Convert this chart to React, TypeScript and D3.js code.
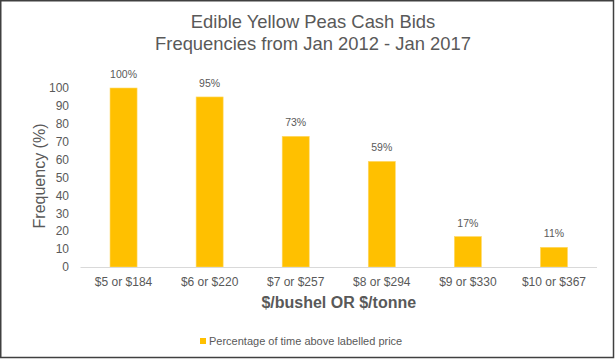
import React, { useEffect, useRef } from "react";
import * as d3 from "d3";

const categories = ["$5 or $184", "$6 or $220", "$7 or $257", "$8 or $294", "$9 or $330", "$10 or $367"];
const frequencies = [100, 95, 73, 59, 17, 11];
const yTicks = [0, 10, 20, 30, 40, 50, 60, 70, 80, 90, 100];
const titleLines = ["Edible Yellow Peas Cash Bids", "Frequencies from Jan 2012 - Jan 2017"];
const seriesName = "Percentage of time above labelled price";

const App = () => {
    const ref = useRef<SVGGElement>(null);
    const width = 615;
    const height = 360;
    const left = 80.5;
    const right = 597;
    const top = 88;
    const bottom = 267;
    const textColor = "#595959";
    const barColor = "#FFC000";
    const font = "'Liberation Sans', Arial, sans-serif";

    useEffect(() => {
        const g = d3.select(ref.current);
        g.selectAll("*").remove();

        const x = d3.scaleBand().domain(categories).range([left, right]).paddingInner(0.686).paddingOuter(0.343);
        const y = d3.scaleLinear().domain([0, 100]).range([bottom, top]);

        // outer frame
        g.append("rect")
            .attr("x", 0.75)
            .attr("y", 0.75)
            .attr("width", 612.75)
            .attr("height", 356.75)
            .attr("fill", "white")
            .attr("stroke", "#404040")
            .attr("stroke-width", 1.5);

        // title
        g.append("text")
            .attr("text-anchor", "middle")
            .attr("font-family", font)
            .attr("font-size", "18.4px")
            .attr("fill", textColor)
            .selectAll("tspan")
            .data(titleLines)
            .enter()
            .append("tspan")
            .attr("x", 313)
            .attr("y", (d, i) => 28 + i * 22)
            .text(d => d);

        // y axis labels
        g.append("g")
            .selectAll("text")
            .data(yTicks)
            .enter()
            .append("text")
            .attr("x", 69)
            .attr("y", d => y(d))
            .attr("dy", "0.35em")
            .attr("text-anchor", "end")
            .attr("font-family", font)
            .attr("font-size", "12px")
            .attr("fill", textColor)
            .text(d => d);

        // bars
        g.append("g")
            .selectAll("rect")
            .data(frequencies)
            .enter()
            .append("rect")
            .attr("x", (d, i) => x(categories[i])!)
            .attr("y", d => y(d))
            .attr("width", x.bandwidth())
            .attr("height", d => y(0) - y(d))
            .attr("fill", barColor)
            .attr("stroke", "#FFD966")
            .attr("stroke-width", 0.6);

        // value labels
        g.append("g")
            .selectAll("text")
            .data(frequencies)
            .enter()
            .append("text")
            .attr("x", (d, i) => x(categories[i])! + x.bandwidth() / 2)
            .attr("y", d => y(d) - 10)
            .attr("text-anchor", "middle")
            .attr("font-family", font)
            .attr("font-size", "10.5px")
            .attr("fill", textColor)
            .text(d => d + "%");

        // baseline
        g.append("line")
            .attr("x1", left)
            .attr("x2", right)
            .attr("y1", y(0) + 0.5)
            .attr("y2", y(0) + 0.5)
            .attr("stroke", "#D9D9D9")
            .attr("stroke-width", 1);

        // x labels
        g.append("g")
            .selectAll("text")
            .data(categories)
            .enter()
            .append("text")
            .attr("x", d => x(d)! + x.bandwidth() / 2)
            .attr("y", 286)
            .attr("text-anchor", "middle")
            .attr("font-family", font)
            .attr("font-size", "12px")
            .attr("fill", textColor)
            .text(d => d);

        // axis titles
        g.append("text")
            .attr("x", (left + right) / 2)
            .attr("y", 307.5)
            .attr("text-anchor", "middle")
            .attr("font-family", font)
            .attr("font-size", "16px")
            .attr("font-weight", "bold")
            .attr("fill", textColor)
            .text("$/bushel OR $/tonne");

        g.append("text")
            .attr("transform", "translate(44.5, 176) rotate(-90)")
            .attr("text-anchor", "middle")
            .attr("font-family", font)
            .attr("font-size", "16px")
            .attr("fill", textColor)
            .text("Frequency (%)");

        // legend
        const legend = g.append("g").attr("transform", "translate(200, 338)");
        legend.append("rect")
            .attr("width", 6)
            .attr("height", 6)
            .attr("fill", barColor);
        legend.append("text")
            .attr("x", 9)
            .attr("y", 7)
            .attr("font-family", font)
            .attr("font-size", "11px")
            .attr("fill", textColor)
            .text(seriesName);
    }, []);

    return (
        <svg width={width} height={height} style={{ position: "absolute", left: 0, top: 0, background: "white" }}>
            <g ref={ref} />
        </svg>
    );
};

export default App;
